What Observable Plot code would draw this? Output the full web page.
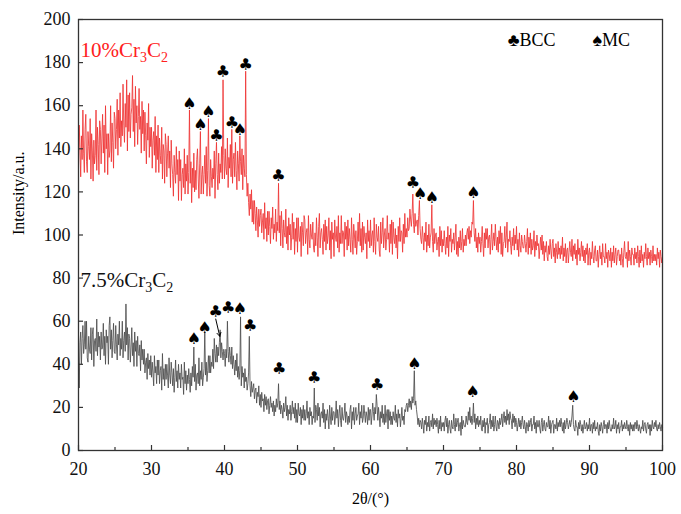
<!DOCTYPE html>
<html><head><meta charset="utf-8">
<script src="https://cdn.jsdelivr.net/npm/d3@7"></script>
<script src="https://cdn.jsdelivr.net/npm/@observablehq/plot@0.6"></script>
<style>body{margin:0;background:#fff}#chart{width:681px;height:514px}</style>
</head><body><div id="chart"></div>
<script>
// 2θ sampling of the traces
const thetaStart = 20, thetaStep = 0.1;
// 10% Cr3C2 intensity (one row per degree, 0.1° apart)
const intensity10 = [
132,151,140,127,146,135,158,138,129,149,
156,134,129,148,141,135,154,126,147,139,
125,144,133,137,158,130,150,142,128,153,
149,133,145,156,138,151,129,160,140,147,
128,147,136,139,160,134,152,143,131,157,
154,140,149,163,137,158,145,166,141,153,
146,170,151,143,161,150,172,139,165,148,
166,145,156,159,174,148,163,141,169,152,
160,142,155,168,149,155,138,162,147,158,
139,157,146,133,152,144,161,136,150,141,
150,131,144,148,137,155,129,146,135,151,
129,145,137,133,150,126,142,139,124,147,
142,127,138,146,131,139,122,144,133,128,
118,137,129,124,141,128,135,116,139,125,
135,116,128,131,122,140,119,133,125,137,
119,129,158,124,134,115,131,122,138,120,
130,121,135,140,126,117,133,148,119,128,
132,119,128,137,124,141,118,130,154,123,
118,135,127,122,131,126,139,117,133,143,
128,121,138,124,133,129,141,126,172,137,
126,140,131,128,145,122,136,131,142,127,
149,124,135,138,127,143,130,121,139,133,
125,146,134,128,140,121,137,131,127,176,
128,118,124,115,109,119,112,121,106,116,
105,116,110,102,113,107,99,112,104,109,
112,101,106,110,98,115,103,108,97,111,
100,111,104,96,108,103,113,98,105,101,
112,97,106,102,124,101,109,95,111,103,
94,107,101,99,112,96,104,93,108,100,
105,93,99,110,98,106,91,103,97,108,
92,108,99,97,104,90,106,101,95,109,
107,96,101,103,91,109,98,94,105,100,
98,106,94,92,101,95,108,99,90,104,
110,94,101,103,98,91,105,97,107,93,
104,96,100,108,93,102,89,106,98,101,
90,107,99,97,104,94,109,92,101,96,
109,96,102,101,90,106,98,104,93,107,
95,103,98,92,108,98,91,105,100,94,
102,91,97,106,97,110,95,103,92,106,
93,104,99,96,101,89,107,97,102,94,
107,95,100,102,92,108,97,91,105,99,
97,104,93,90,106,96,101,108,94,100,
103,93,98,109,98,101,92,105,96,107,
91,106,99,96,103,94,100,89,104,97,
108,97,102,101,92,105,96,110,99,103,
99,108,102,103,112,107,104,110,119,105,
101,110,104,106,107,100,109,116,103,98,
96,104,99,93,101,97,106,92,100,95,
105,94,99,101,114,97,92,103,96,100,
101,93,97,99,90,104,95,102,92,98,
95,102,96,91,99,94,104,90,100,97,
103,92,98,96,101,93,99,105,91,97,
90,99,94,102,93,97,103,92,98,95,
100,95,101,103,98,104,96,102,99,106,
105,116,101,97,103,94,99,92,101,96,
99,92,97,104,96,90,101,94,103,98,
103,94,99,100,91,98,105,93,97,101,
95,105,98,93,99,92,102,96,104,91,
101,90,96,97,104,94,99,106,92,98,
97,102,95,91,99,95,103,93,100,96,
104,93,98,90,101,95,92,100,97,94,
94,100,96,92,97,103,91,99,94,101,
91,98,93,95,102,90,97,93,100,95,
96,89,94,99,93,100,91,97,88,95,
92,97,90,88,95,91,98,93,89,96,
98,90,94,87,96,92,89,97,91,94,
89,95,91,99,88,94,90,96,87,93,
94,87,92,97,92,90,98,88,95,91,
96,89,93,86,98,91,94,88,92,97,
90,95,88,93,87,94,91,96,86,92,
94,86,92,89,97,90,87,93,95,88,
88,93,85,91,95,89,92,86,96,90,
90,87,96,89,92,85,93,91,88,94,
85,92,88,95,87,91,94,86,90,93,
93,88,91,86,94,89,85,92,97,90,
89,92,85,97,88,93,90,86,94,91,
91,86,94,89,92,87,95,90,85,93,
87,95,88,91,85,92,89,96,90,86,
94,89,92,86,93,90,87,95,88,91,
88,91,86,94,89,92,85,93,90,87,
90];
// 7.5% Cr3C2 intensity
const intensity75 = [
44,29,50,55,40,52,58,45,49,60,
47,60,43,41,53,47,45,57,42,54,
57,39,51,52,46,61,44,55,48,53,
42,55,47,48,59,44,53,40,56,50,
53,40,58,62,47,56,43,51,59,46,
45,58,49,42,54,49,60,44,52,47,
60,43,51,55,46,68,49,57,42,54,
52,41,48,57,44,50,39,55,46,51,
39,53,45,44,49,37,51,42,47,40,
47,36,41,43,33,45,38,42,35,44,
34,41,36,30,44,36,39,31,42,35,
42,31,37,39,28,45,33,38,30,40,
33,40,35,29,43,35,31,41,36,30,
38,27,34,42,32,37,29,40,33,36,
29,40,33,34,26,41,31,37,28,35,
31,38,33,27,36,30,39,34,48,32,
40,28,35,36,31,43,30,37,33,41,
30,34,38,55,35,41,32,37,44,36,
44,36,41,39,47,38,52,45,41,49,
41,48,44,50,56,43,50,46,42,47,
45,39,47,43,60,46,41,48,44,40,
48,38,44,40,35,42,37,45,34,39,
33,37,62,30,39,34,36,29,38,32,
34,28,31,36,53,30,25,32,27,29,
31,24,28,29,22,27,25,30,21,26,
20,27,23,24,18,26,21,25,19,23,
24,17,21,25,20,22,18,23,16,21,
18,24,20,22,31,19,23,17,21,19,
15,22,18,20,25,16,21,14,19,17,
21,14,18,23,17,20,15,22,13,19,
13,22,17,16,20,12,19,15,21,14,
19,14,17,23,15,18,12,20,16,18,
12,16,15,29,13,21,19,14,22,16,
20,11,17,18,15,22,13,19,10,17,
14,19,15,10,21,16,12,20,14,18,
18,12,16,23,15,19,11,17,21,14,
11,20,15,14,17,22,13,18,16,12,
16,13,19,21,10,18,14,20,12,17,
20,14,16,17,22,12,18,15,21,13,
15,21,17,13,18,16,12,20,14,19,
19,12,16,22,18,14,20,17,26,21,
14,20,16,11,18,15,21,13,17,12,
21,13,17,19,10,19,14,18,12,16,
12,18,15,14,21,13,17,11,19,15,
17,11,15,20,14,16,12,19,18,21,
22,18,21,24,20,23,19,25,22,24,
37,21,23,19,16,12,15,11,14,13,
10,15,12,8,14,12,16,9,13,11,
16,9,13,14,11,17,10,15,12,14,
11,15,12,8,14,10,16,9,13,11,
13,9,14,16,11,15,8,12,14,10,
8,14,11,10,17,12,9,15,11,13,
15,9,12,13,7,16,10,14,12,11,
11,16,13,12,18,14,20,13,16,12,
15,22,13,17,10,15,12,16,11,14,
12,16,10,9,14,11,15,8,13,12,
15,8,12,13,17,10,14,11,16,9,
12,16,11,9,14,13,10,15,12,14,
17,11,15,18,13,16,12,19,14,17,
12,18,15,14,10,17,13,16,11,15,
13,9,12,15,11,14,10,13,16,12,
10,14,11,8,13,12,9,14,11,13,
15,9,12,12,16,10,13,8,14,11,
11,14,10,8,13,15,9,12,14,10,
9,13,11,11,16,10,14,8,12,13,
14,8,12,12,10,15,9,13,11,14,
11,15,12,9,13,8,14,10,12,15,
13,10,12,14,11,13,16,21,12,10,
9,14,11,11,7,13,10,14,12,9,
12,8,11,14,10,11,13,9,12,10,
15,9,12,12,8,13,10,14,9,11,
10,13,9,7,12,9,13,11,8,12,
14,10,12,12,8,13,10,14,11,9,
9,12,10,15,10,11,14,8,12,10,
13,8,11,11,14,9,12,10,13,11,
10,14,11,9,12,7,13,10,12,9,
12,9,13,13,10,14,11,9,12,10,
8,11,10,14,9,12,13,10,8,12,
13,10,12,7,12,9,14,11,10,13,
11,14,10,9,12,10,13,11,9,12,
11];
// peak markers [2θ, intensity]
const bcc10 = [[38.9,146],[39.8,175.5],[41.0,152],[42.9,179],[47.4,127.6],[65.8,124]];
const mc10  = [[35.2,161],[36.7,151],[37.8,157],[42.1,149],[66.8,119],[68.4,117],[74.1,119.4]];
const bcc75 = [[38.8,64.5],[40.5,66],[43.5,58],[47.5,38],[52.3,33.6],[60.9,30.5]];
const mc75  = [[35.8,52],[37.3,57],[42.1,65.7],[66.0,40.2],[74.0,27],[87.8,25]];
const arrow75 = [{x1:38.8, y1:61, x2:39.35, y2:53}];
// series labels and legend
const seriesLabels = [{x:20, y:185.6, t:"10%Cr3C2", c:"#ff2020"},{x:20, y:79, t:"7.5%Cr3C2", c:"#111"}];
const legendItems = [{x:78.8, y:190.3, t:"♣BCC"},{x:90.4, y:190.3, t:"♠MC"}];
const xMajor = [20,30,40,50,60,70,80,90,100];
const xMinor = [25,35,45,55,65,75,85,95];
const yTicks = [0,20,40,60,80,100,120,140,160,180,200];

const rows10 = intensity10.map((v,i)=>({x: thetaStart + i*thetaStep, y: v}));
const rows75 = intensity75.map((v,i)=>({x: thetaStart + i*thetaStep, y: v}));
const pts = a => a.map(([x,y])=>({x,y}));
const glyphFont = "DejaVu Sans";

const plot = Plot.plot({
  width: 681, height: 514,
  marginLeft: 78, marginRight: 19, marginTop: 19, marginBottom: 64,
  style: {fontFamily: "'Times New Roman','Liberation Serif',serif", fontSize: "18px", color: "#111", background: "#fff"},
  x: {domain: [20,100]},
  y: {domain: [0,200]},
  marks: [
    Plot.line(rows75, {x:"x", y:"y", stroke:"#4d4d4d", strokeWidth:0.85}),
    Plot.line(rows10, {x:"x", y:"y", stroke:"#ee3434", strokeWidth:0.85}),
    Plot.text(pts(bcc10), {x:"x", y:"y", text:()=>"♣", fontSize:16, fontFamily:glyphFont, fill:"#000"}),
    Plot.text(pts(mc10), {x:"x", y:"y", text:()=>"♠", fontSize:16, fontFamily:glyphFont, fill:"#000"}),
    Plot.text(pts(bcc75), {x:"x", y:"y", text:()=>"♣", fontSize:16, fontFamily:glyphFont, fill:"#000"}),
    Plot.text(pts(mc75), {x:"x", y:"y", text:()=>"♠", fontSize:16, fontFamily:glyphFont, fill:"#000"}),
    Plot.arrow(arrow75, {x1:"x1", y1:"y1", x2:"x2", y2:"y2", stroke:"#000", strokeWidth:1, headLength:6}),
    Plot.text(seriesLabels, {x:"x", y:"y", text:"t", fill:"c", textAnchor:"start", dx:2, fontSize:21}),
    Plot.text(legendItems, {x:"x", y:"y", text:"t", textAnchor:"start", fontSize:18, fill:"#000"}),
    Plot.frame({stroke:"#333", strokeWidth:1.3}),
    Plot.tickX(xMajor, {x:d=>d, insetTop:426, stroke:"#333", strokeWidth:1.2}),
    Plot.tickX(xMinor, {x:d=>d, insetTop:428, stroke:"#333", strokeWidth:1.2}),
    Plot.tickY(yTicks, {y:d=>d, insetRight:579, stroke:"#333", strokeWidth:1.2}),
    Plot.axisX({ticks:xMajor, tickSize:0, tickPadding:12, label:null, fontSize:18}),
    Plot.axisY({ticks:yTicks, tickSize:0, tickPadding:8, label:null, fontSize:18}),
    Plot.text(["2θ/(°)"], {frameAnchor:"bottom", dy:53, fontSize:16, fill:"#000"}),
    Plot.text(["Intensity/a.u."], {frameAnchor:"left", dx:-60, rotate:-90, fontSize:16, fill:"#000"})
  ]
});
// subscripts for the Cr3C2 labels
plot.querySelectorAll("text").forEach(t => {
  const s = t.textContent;
  const m = s.match(/^(.*Cr)3C2$/);
  if (!m) return;
  t.textContent = "";
  const ns = "http://www.w3.org/2000/svg";
  const parts = [[m[1],0,null],["3",5,"14px"],["C",-5,null],["2",5,"14px"]];
  parts.forEach(([txt,dy,fs]) => {
    const sp = document.createElementNS(ns,"tspan");
    sp.textContent = txt;
    if (dy) sp.setAttribute("dy", dy);
    if (fs) sp.setAttribute("font-size", fs);
    t.appendChild(sp);
  });
});
document.getElementById("chart").appendChild(plot);
</script></body></html>
